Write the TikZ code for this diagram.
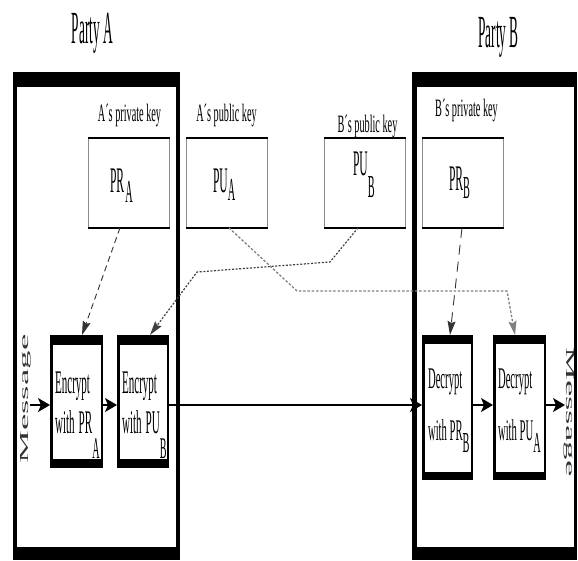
\documentclass[tikz,border=0pt]{standalone}
\usepackage{fontspec}
\setmainfont{Liberation Serif}
\usetikzlibrary{arrows.meta}
\begin{document}
\begin{tikzpicture}[x=1pt,y=-1pt,
  party/.style={font=\fontsize{46}{46}\selectfont, xscale=0.29, inner sep=0, anchor=base},
  keylabel/.style={font=\fontsize{25}{25}\selectfont, xscale=0.41, inner sep=0, anchor=base},
  keybox/.style={draw=black!45, line width=0.7pt, minimum width=81pt, minimum height=89pt, inner sep=0},
  keytxt/.style={font=\fontsize{36}{36}\selectfont, xscale=0.32, inner sep=0, anchor=base west},
  procbox/.style={draw, line width=2.5pt, inner sep=0},
  enctxt/.style={font=\fontsize{33}{33}\selectfont, xscale=0.335, inner sep=0, anchor=base west},
  dectxt/.style={font=\fontsize{30}{30}\selectfont, xscale=0.355, inner sep=0, anchor=base west},
  msgtxt/.style={font=\fontsize{37}{37}\selectfont, inner sep=0, text=black!80},
  mainarrow/.style={line width=1.3pt, -{Stealth[length=12pt,width=14pt,inset=3pt]}},
  keyarrow/.style={line width=0.9pt, -{Stealth[length=14pt,width=8pt,inset=2pt]}},
]
\useasboundingbox (0,0) rectangle (578,560);

% party frames
\fill[black] (13,72) rectangle (180,560);
\fill[white] (17,87) rectangle (176,547);
\fill[black] (412,72) rectangle (577,560);
\fill[white] (417,87) rectangle (574,547);

% titles
\node[party] (partyA) at (92.5,43) {Party A};
\node[party] (partyB) at (498.5,47) {Party B};

% key labels
\node[keylabel] (lprA) at (129.5,121) {A´s private key};
\node[keylabel] (lpuA) at (226.5,121) {A´s public key};
\node[keylabel] (lpuB) at (367.5,132) {B´s public key};
\node[keylabel] (lprB) at (466.5,116) {B´s private key};

% key boxes
\node[keybox] (prA) at (129,183) {};
\node[keybox] (puA) at (227,183) {};
\node[keybox] (puB) at (365,183) {};
\node[keybox] (prB) at (463,183) {};
\foreach \n in {prA,puA,puB,prB}{
  \draw[line width=2pt] (\n.north west) -- (\n.north east)
                        (\n.south west) -- (\n.south east);
}
\node[keytxt] (tprA) at (110,192) {PR\kern4pt\raisebox{-10pt}{\fontsize{32}{32}\selectfont A}};
\node[keytxt] (tpuA) at (213,192) {PU\raisebox{-8pt}{\fontsize{32}{32}\selectfont A}};
\node[keytxt] (tpuB) at (353,175) {PU\raisebox{-22pt}{\fontsize{32}{32}\selectfont B}};
\node[keytxt] (tprB) at (449,190) {PR\raisebox{-8pt}{\fontsize{32}{32}\selectfont B}};

% process boxes
\node[procbox, minimum width=50.5pt, minimum height=130.5pt] (encA) at (76.5,401.5) {};
\node[procbox, minimum width=49.5pt, minimum height=130.5pt] (encB) at (143,401.5) {};
\node[procbox, minimum width=48.5pt, minimum height=142.5pt] (decB) at (447.5,407.5) {};
\node[procbox, minimum width=50.5pt, minimum height=142.5pt] (decA) at (519.5,407.5) {};
\foreach \n in {encA,encB}{
  \fill (\n.north west) rectangle ([yshift=-10pt]\n.north east);
  \fill ([yshift=9pt]\n.south west) rectangle (\n.south east);
}
\foreach \n in {decB,decA}{
  \fill (\n.north west) rectangle ([yshift=-9pt]\n.north east);
  \fill ([yshift=8pt]\n.south west) rectangle (\n.south east);
}
\node[enctxt] (eA1) at (55,393) {Encrypt};
\node[enctxt] (eA2) at (55,433) {with\hspace{12pt}PR\raisebox{-25pt}{\fontsize{30}{30}\selectfont A}};
\node[enctxt] (eB1) at (122,393) {Encrypt};
\node[enctxt] (eB2) at (122,433) {with\hspace{12pt}PU\raisebox{-25pt}{\fontsize{30}{30}\selectfont B}};
\node[dectxt] (dB1) at (428,388) {Decrypt};
\node[dectxt] (dB2) at (428,440) {with PR\raisebox{-12pt}{\fontsize{29}{29}\selectfont B}};
\node[dectxt] (dA1) at (498,388) {Decrypt};
\node[dectxt] (dA2) at (498,440) {with PU\raisebox{-12pt}{\fontsize{29}{29}\selectfont A}};

% message labels
\node[msgtxt, xscale=0.33, rotate=90] (msgL) at (26,399) {Message};
\node[msgtxt, xscale=0.33, rotate=-90] (msgR) at (569.5,412) {Message};

% main flow
\coordinate (row) at (0,405);
\coordinate (inL) at (30,405);
\coordinate (outR) at (565,405);
\draw[mainarrow] (inL) -- (encA.west |- row);
\draw[mainarrow] (encA.east |- row) -- (encB.west |- row);
\draw[mainarrow] (encB.east |- row) -- (decB.west |- row);
\draw[mainarrow] (decB.east |- row) -- (decA.west |- row);
\draw[mainarrow] (decA.east |- row) -- (outR);

% key connectors
\draw[keyarrow, black!80, dash pattern=on 6pt off 4pt]
  ([xshift=-9pt]prA.south) -- ([xshift=5.5pt]encA.north);
\draw[keyarrow, black!80, dash pattern=on 10pt off 7pt]
  ([xshift=-1pt]prB.south) -- ([xshift=2.5pt]decB.north);
\draw[keyarrow, black!75, line width=1.2pt, dash pattern=on 2pt off 1.6pt]
  ([xshift=-7pt]puB.south) -- (330,262) -- (197,272) -- ([xshift=7pt]encB.north);
\draw[keyarrow, black!50, line width=1.3pt, dash pattern=on 2.5pt off 1.8pt]
  ([xshift=2pt]puA.south) -- (297,291) -- (507,291) -- ([xshift=-4.5pt]decA.north);
\end{tikzpicture}
\end{document}
